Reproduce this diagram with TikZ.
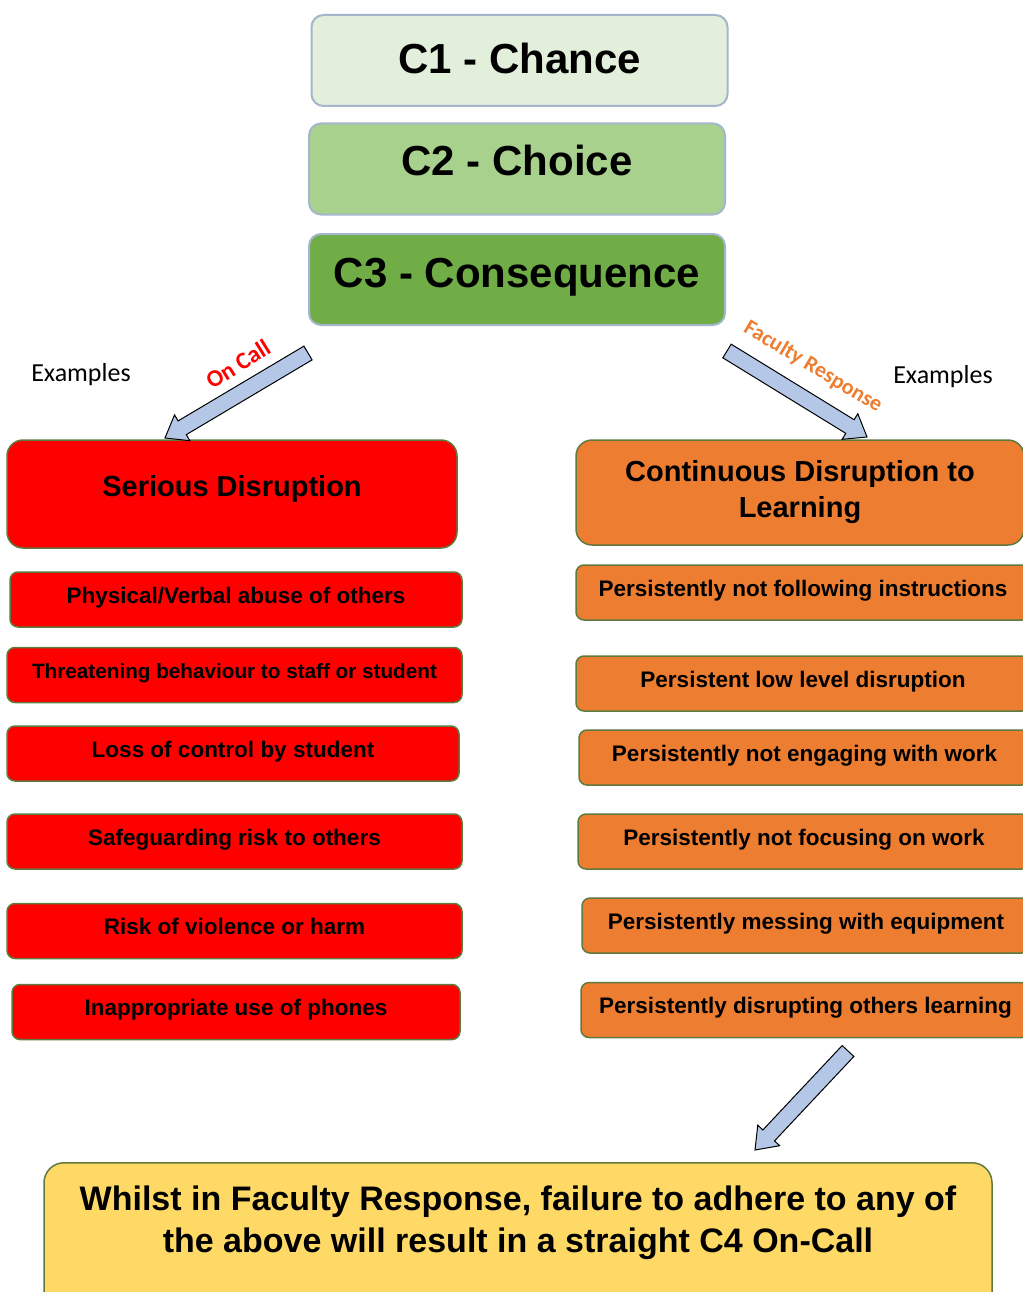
\documentclass[tikz,border=0pt]{standalone}
\usepackage{fontspec}
\setmainfont{Liberation Sans}
\newfontfamily\calfont{Carlito}
\usetikzlibrary{calc}

\definecolor{chanceGreen}{HTML}{E2EFDA}
\definecolor{choiceGreen}{HTML}{A9D18E}
\definecolor{consGreen}{HTML}{70AD47}
\definecolor{cEdge}{HTML}{A3B6CB}
\definecolor{boxEdge}{HTML}{5E7A3E}
\definecolor{discRed}{HTML}{FF0000}
\definecolor{facOrange}{HTML}{ED7D31}
\definecolor{noteYellow}{HTML}{FFD966}
\definecolor{arrowBlue}{HTML}{B4C7E7}

\tikzset{
  cbox/.style={draw=cEdge, line width=2pt, rounded corners=12pt, minimum width=416pt, minimum height=91pt, text height=31pt, font=\bfseries\fontsize{42}{50}\selectfont},
  headbox/.style={draw=boxEdge, line width=1.5pt, rounded corners=16pt, align=center, font=\bfseries\fontsize{29}{36}\selectfont},
  itembox/.style={draw=boxEdge, line width=1.5pt, rounded corners=8pt, minimum height=55pt, text height=16pt, text depth=9pt, font=\bfseries\fontsize{22.5}{27}\selectfont},
  redbox/.style={itembox, fill=discRed},
  orangebox/.style={itembox, fill=facOrange},
  blockarrow/.style={draw=black, line width=1pt, fill=arrowBlue, line join=miter},
  examples/.style={font=\calfont\fontsize{26}{31}\selectfont},
}

% block arrow from tail #1 to tip #2
\newcommand\blockarrow[2]{%
  \coordinate (ah) at ($(#2)!20pt!(#1)$);
  \draw[blockarrow] ($(#1)!8pt!90:(#2)$) -- ($(ah)!8pt!90:(#2)$) -- ($(ah)!15pt!90:(#2)$)
    -- (#2) -- ($(ah)!15pt!-90:(#2)$) -- ($(ah)!8pt!-90:(#2)$) -- ($(#1)!8pt!-90:(#2)$) -- cycle;}

\begin{document}
\begin{tikzpicture}[x=1pt, y=-1pt]
\useasboundingbox (0,0) rectangle (1022,1292);

% the three C levels
\node[cbox, fill=chanceGreen, text depth=5pt] (chance) at (519.5,60.5) {C1 - Chance};
\node[cbox, fill=choiceGreen, text depth=17pt] (choice) at (517,169) {C2 - Choice};
\node[cbox, fill=consGreen, text depth=16pt] (consequence) at (517,279.5) {C3 - Consequence};

% left column
\node[headbox, fill=discRed, minimum width=450pt, minimum height=108pt, text height=20pt, text depth=16pt] (serious) at (232,494) {Serious Disruption};
\node[redbox, minimum width=452pt] (abuse) at (236,599.5) {Physical/Verbal abuse of others};
\node[redbox, minimum width=455pt, font=\bfseries\fontsize{20.7}{25}\selectfont] (threat) at (234.5,675) {Threatening behaviour to staff or student};
\node[redbox, minimum width=452pt] (control) at (233,753.5) {Loss of control by student};
\node[redbox, minimum width=455pt] (safeguard) at (234.5,841.5) {Safeguarding risk to others};
\node[redbox, minimum width=455pt] (violence) at (234.5,931) {Risk of violence or harm};
\node[redbox, minimum width=448pt] (phones) at (236,1012) {Inappropriate use of phones};

% right column
\node[headbox, fill=facOrange, minimum width=448pt, minimum height=105pt] (continuous) at (800,492.5) {Continuous Disruption to\\Learning};
\node[orangebox, minimum width=454pt] (instructions) at (803,592.5) {Persistently not following instructions};
\node[orangebox, minimum width=454pt] (lowlevel) at (803,683.5) {Persistent low level disruption};
\node[orangebox, minimum width=451pt] (engaging) at (804.5,757.5) {Persistently not engaging with work};
\node[orangebox, minimum width=452pt] (focusing) at (804,841.5) {Persistently not focusing on work};
\node[orangebox, minimum width=448pt] (equipment) at (806,925.5) {Persistently messing with equipment};
\node[orangebox, minimum width=449pt] (others) at (805.5,1010) {Persistently disrupting others learning};

% C4 note
\node[draw=boxEdge, line width=1.5pt, fill=noteYellow, rounded corners=20pt, anchor=north, minimum width=948pt,
  inner ysep=23pt, align=center, font=\bfseries\fontsize{34}{42}\selectfont] (oncallnote) at (518,1162)
  {Whilst in Faculty Response, failure to adhere to any of\\the above will result in a straight C4 On-Call\\[30pt]\mbox{}};

% labels
\node[examples] (exleft) at (81,375) {Examples};
\node[examples] (exright) at (943,377) {Examples};
\node[font=\calfont\bfseries\fontsize{24}{28}\selectfont, text=discRed, rotate=32] (oncalllbl) at (238,364) {On Call};
\node[font=\calfont\bfseries\fontsize{22}{26}\selectfont, text=facOrange, rotate=-31] (faclbl) at (813,367) {Faculty Response};

% arrows
\coordinate (oncallTail) at (308,353);
\coordinate (oncallTip) at (165,438);
\coordinate (facTail) at (727,351);
\coordinate (facTip) at (867,437);
\coordinate (c4Tail) at (848,1051);
\coordinate (c4Tip) at (755,1150);
\blockarrow{oncallTail}{oncallTip}
\blockarrow{facTail}{facTip}
\blockarrow{c4Tail}{c4Tip}
\end{tikzpicture}
\end{document}
